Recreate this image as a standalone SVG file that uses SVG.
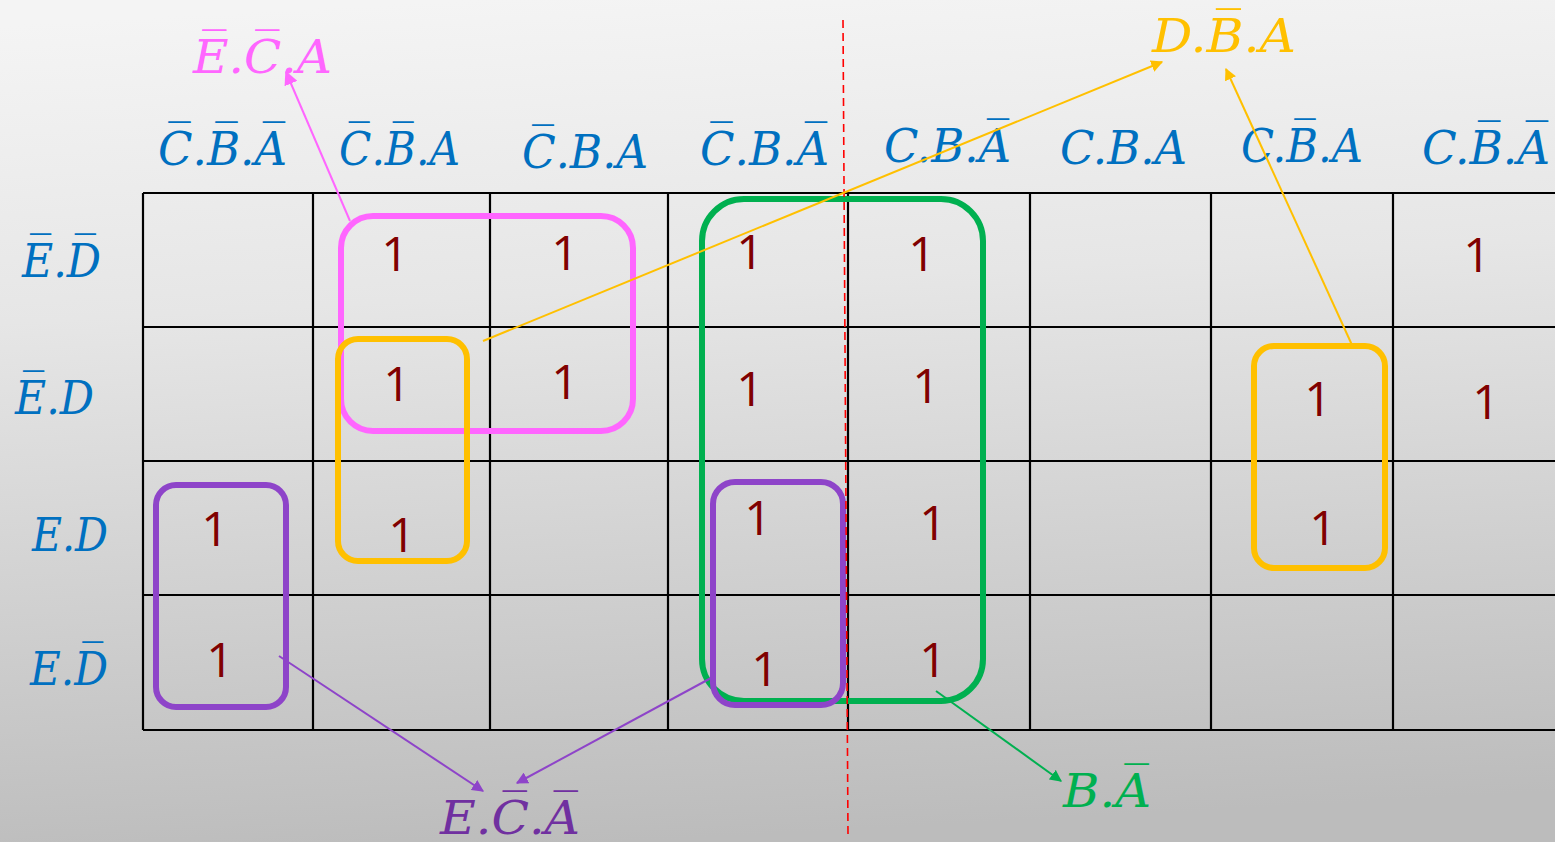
<svg xmlns="http://www.w3.org/2000/svg" width="1555" height="842" viewBox="0 0 1555 842">
<defs>
<linearGradient id="bg" x1="0.3" y1="0" x2="0.4" y2="1">
<stop offset="0" stop-color="#f4f4f4"/>
<stop offset="0.35" stop-color="#e6e6e6"/>
<stop offset="1" stop-color="#bcbcbc"/>
</linearGradient>
<marker id="mPink" viewBox="0 0 10 10" refX="9" refY="5" markerWidth="7" markerHeight="7" orient="auto" markerUnits="strokeWidth"><path d="M0,0 L10,5 L0,10 z" fill="#ff66ff"/></marker>
<marker id="mOr" viewBox="0 0 10 10" refX="9" refY="5" markerWidth="6" markerHeight="6" orient="auto" markerUnits="strokeWidth"><path d="M0,0 L10,5 L0,10 z" fill="#ffc000"/></marker>
<marker id="mPur" viewBox="0 0 10 10" refX="9" refY="5" markerWidth="6" markerHeight="6" orient="auto" markerUnits="strokeWidth"><path d="M0,0 L10,5 L0,10 z" fill="#8e44c9"/></marker>
<marker id="mGr" viewBox="0 0 10 10" refX="9" refY="5" markerWidth="6" markerHeight="6" orient="auto" markerUnits="strokeWidth"><path d="M0,0 L10,5 L0,10 z" fill="#00b050"/></marker>
</defs>
<style>
.blue{fill:#0070c0}
.one{fill:#800000;text-anchor:middle}
.grid{stroke:#000;stroke-width:2.2;fill:none}
.grp{fill:none;stroke-width:6}
.conn{fill:none;stroke-width:2}
</style>
<rect x="0" y="0" width="1555" height="842" fill="url(#bg)"/>

<g id="grid" class="grid">
<line x1="143" y1="193" x2="1555" y2="193"/>
<line x1="143" y1="327" x2="1555" y2="327"/>
<line x1="143" y1="461" x2="1555" y2="461"/>
<line x1="143" y1="595" x2="1555" y2="595"/>
<line x1="143" y1="730" x2="1555" y2="730"/>
<line x1="143" y1="193" x2="143" y2="730"/>
<line x1="313" y1="193" x2="313" y2="730"/>
<line x1="490" y1="193" x2="490" y2="730"/>
<line x1="668" y1="193" x2="668" y2="730"/>
<line x1="848" y1="193" x2="848" y2="730"/>
<line x1="1030" y1="193" x2="1030" y2="730"/>
<line x1="1211" y1="193" x2="1211" y2="730"/>
<line x1="1393" y1="193" x2="1393" y2="730"/>
</g>

<g id="col-labels" class="blue" font-family="DejaVu Serif" font-style="italic" font-size="46">
<text id="c1" x="158" y="165" textLength="129" lengthAdjust="spacingAndGlyphs">C&#x305;.B&#x305;.A&#x305;</text>
<text id="c2" x="339" y="165" textLength="121" lengthAdjust="spacingAndGlyphs">C&#x305;.B&#x305;.A</text>
<text id="c3" x="522" y="168" textLength="126" lengthAdjust="spacingAndGlyphs">C&#x305;.B.A</text>
<text id="c4" x="700" y="165" textLength="129" lengthAdjust="spacingAndGlyphs">C&#x305;.B.A&#x305;</text>
<text id="c5" x="884" y="162" textLength="127" lengthAdjust="spacingAndGlyphs">C.B.A&#x305;</text>
<text id="c6" x="1060" y="164" textLength="127" lengthAdjust="spacingAndGlyphs">C.B.A</text>
<text id="c7" x="1241" y="162" textLength="122" lengthAdjust="spacingAndGlyphs">C.B&#x305;.A</text>
<text id="c8" x="1422" y="164" textLength="128" lengthAdjust="spacingAndGlyphs">C.B&#x305;.A&#x305;</text>
</g>

<g id="row-labels" class="blue" font-family="DejaVu Serif" font-style="italic" font-size="46">
<text id="r1" x="22" y="277" textLength="79" lengthAdjust="spacingAndGlyphs">E&#x305;.D&#x305;</text>
<text id="r2" x="15" y="414" textLength="79" lengthAdjust="spacingAndGlyphs">E&#x305;.D</text>
<text id="r3" x="32" y="551" textLength="76" lengthAdjust="spacingAndGlyphs">E.D</text>
<text id="r4" x="30" y="685" textLength="78" lengthAdjust="spacingAndGlyphs">E.D&#x305;</text>
</g>

<g id="ones" font-family="Open Sans" font-size="48">
<text class="one" x="395" y="271">1</text>
<text class="one" x="565" y="270">1</text>
<text class="one" x="750" y="269">1</text>
<text class="one" x="922" y="271">1</text>
<text class="one" x="1477" y="272">1</text>
<text class="one" x="397" y="401">1</text>
<text class="one" x="565" y="399">1</text>
<text class="one" x="750" y="406">1</text>
<text class="one" x="926" y="403">1</text>
<text class="one" x="1318" y="416">1</text>
<text class="one" x="1486" y="419">1</text>
<text class="one" x="215" y="546">1</text>
<text class="one" x="402" y="552">1</text>
<text class="one" x="758" y="535">1</text>
<text class="one" x="933" y="540">1</text>
<text class="one" x="1323" y="545">1</text>
<text class="one" x="220" y="677">1</text>
<text class="one" x="765" y="686">1</text>
<text class="one" x="933" y="677">1</text>
</g>

<g id="groups">
<rect id="g-pink" class="grp" x="341" y="216" width="292" height="215" rx="32" stroke="#ff66ff"/>
<rect id="g-green" class="grp" x="702" y="199" width="281" height="502" rx="42" stroke="#00b050"/>
<rect id="g-orange1" class="grp" x="338" y="339" width="129" height="222" rx="20" stroke="#ffc000"/>
<rect id="g-orange2" class="grp" x="1254" y="346" width="131" height="222" rx="20" stroke="#ffc000"/>
<rect id="g-purple1" class="grp" x="156" y="485" width="130" height="222" rx="20" stroke="#8e44c9"/>
<rect id="g-purple2" class="grp" x="713" y="482" width="130" height="223" rx="22" stroke="#8e44c9"/>
</g>

<line id="divider" x1="843" y1="20" x2="848" y2="835" stroke="#ff0000" stroke-width="1.6" stroke-dasharray="8,5"/>

<g id="connectors">
<line class="conn" x1="350" y1="221" x2="286" y2="72" stroke="#ff66ff" marker-end="url(#mPink)"/>
<line class="conn" x1="483" y1="341" x2="1162" y2="62" stroke="#ffc000" marker-end="url(#mOr)"/>
<line class="conn" x1="1352" y1="345" x2="1226" y2="69" stroke="#ffc000" marker-end="url(#mOr)"/>
<line class="conn" x1="279" y1="656" x2="483" y2="791" stroke="#8e44c9" marker-end="url(#mPur)"/>
<line class="conn" x1="711" y1="678" x2="517" y2="783" stroke="#8e44c9" marker-end="url(#mPur)"/>
<line class="conn" x1="936" y1="691" x2="1061" y2="781" stroke="#00b050" marker-end="url(#mGr)"/>
</g>

<g id="results" font-family="DejaVu Serif" font-style="italic" font-size="46">
<text id="t-pink" x="193" y="73" fill="#ff66ff" textLength="139" lengthAdjust="spacingAndGlyphs">E&#x305;.C&#x305;.A</text>
<text id="t-orange" x="1152" y="52" fill="#ffc000" textLength="144" lengthAdjust="spacingAndGlyphs">D.B&#x305;.A</text>
<text id="t-purple" x="440" y="834" fill="#7030a0" textLength="140" lengthAdjust="spacingAndGlyphs">E.C&#x305;.A&#x305;</text>
<text id="t-green" x="1063" y="807" fill="#00b050" textLength="88" lengthAdjust="spacingAndGlyphs">B.A&#x305;</text>
</g>
</svg>
